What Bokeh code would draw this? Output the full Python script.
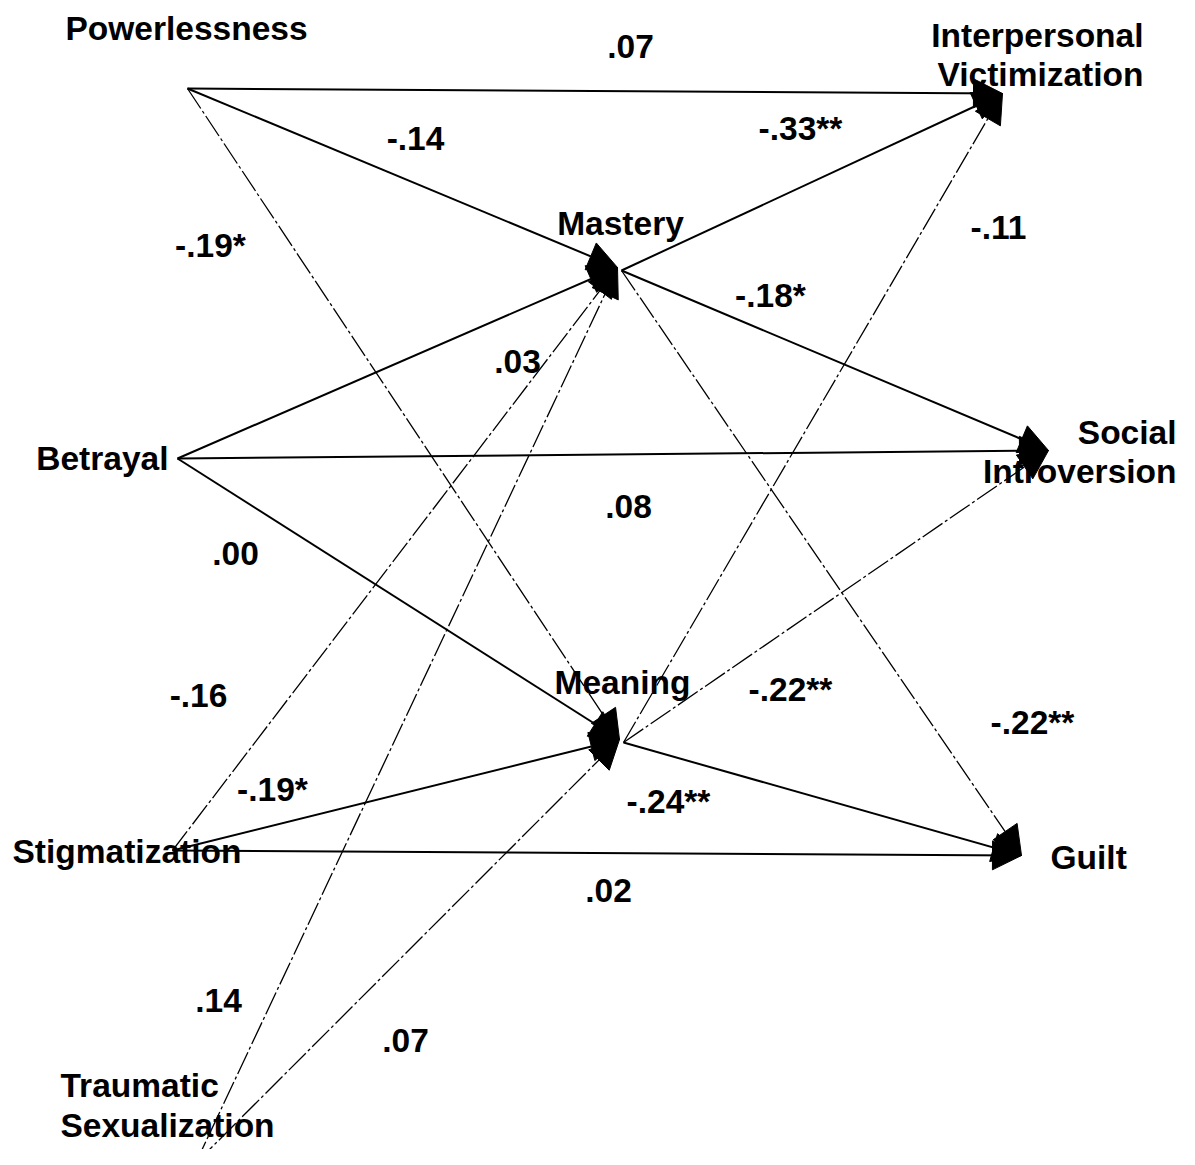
from bokeh.plotting import figure
from bokeh.models import ColumnDataSource, Range1d, Arrow, NormalHead
from bokeh.core.properties import value
from bokeh.embed import file_html
from bokeh.resources import INLINE

# ---------------- data ----------------
edge_from = ["Powerlessness", "Powerlessness", "Powerlessness",
             "Betrayal", "Betrayal", "Betrayal",
             "Stigmatization", "Stigmatization", "Stigmatization",
             "Traumatic Sexualization", "Traumatic Sexualization",
             "Mastery", "Mastery", "Mastery",
             "Meaning", "Meaning", "Meaning"]
edge_to = ["Interpersonal Victimization", "Mastery", "Meaning",
           "Mastery", "Social Introversion", "Meaning",
           "Mastery", "Meaning", "Guilt",
           "Mastery", "Meaning",
           "Interpersonal Victimization", "Social Introversion", "Guilt",
           "Interpersonal Victimization", "Social Introversion", "Guilt"]
coef = [".07", "-.14", "-.19*",
        ".03", ".08", ".00",
        "-.16", "-.19*", ".02",
        ".14", ".07",
        "-.33**", "-.18*", "-.22**",
        "-.11", "-.22**", "-.24**"]
# edges whose printed line is faint / broken in the scan
faint = [False, False, True,
         False, False, False,
         True, False, False,
         True, True,
         False, False, True,
         True, True, False]

# ---------------- layout (pixel coordinates of the page) ----------------
node_out = {
    "Powerlessness": (187, 88),
    "Betrayal": (177, 458),
    "Stigmatization": (172, 850),
    "Traumatic Sexualization": (195, 1163),
    "Mastery": (621, 270),
    "Meaning": (623, 742),
}
node_in = {
    "Mastery": (617, 267),
    "Meaning": (619, 739),
    "Interpersonal Victimization": (1002, 93),
    "Social Introversion": (1048, 450),
    "Guilt": (1021, 855),
}
coef_pos = [(630, 46), (415, 138), (210, 245),
            (517, 361), (628, 506), (235, 553),
            (198, 695), (272, 789), (608, 890),
            (218, 1000), (405, 1040),
            (800, 128), (770, 295), (1032, 722),
            (998, 227), (790, 689), (668, 801)]

node_text = ["Powerlessness", "Interpersonal", "Victimization", "Mastery",
             "Betrayal", "Social", "Introversion", "Meaning",
             "Stigmatization", "Guilt", "Traumatic", "Sexualization"]
node_text_pos = [(65, 28), (1143, 35), (1143, 74), (620, 223),
                 (168, 458), (1176, 432), (1176, 471), (622, 682),
                 (12, 851), (1050, 857), (60, 1085), (60, 1125)]
node_text_align = ["left", "right", "right", "center",
                   "right", "right", "right", "center",
                   "left", "left", "left", "left"]

FONT = "Liberation Sans"
FSIZE = "33.5px"

p = figure(width=1179, height=1149, output_backend="svg", toolbar_location=None,
           x_range=Range1d(0, 1179), y_range=Range1d(1149, 0),
           min_border=0, outline_line_color=None, background_fill_color="white",
           border_fill_color="white")
p.axis.visible = False
p.grid.visible = False

def edge_source(mask):
    d = dict(x0=[], y0=[], x1=[], y1=[])
    for f, t, m in zip(edge_from, edge_to, faint):
        if m != mask:
            continue
        x0, y0 = node_out[f]
        x1, y1 = node_in[t]
        d["x0"].append(x0); d["y0"].append(y0)
        d["x1"].append(x1); d["y1"].append(y1)
    return ColumnDataSource(d)

for mask, lw, dash in [(False, 2.0, "solid"), (True, 1.3, "24 3 3 3")]:
    src = edge_source(mask)
    p.add_layout(Arrow(end=NormalHead(size=29, fill_color="black", line_color="black", line_width=1),
                       x_start="x0", y_start="y0", x_end="x1", y_end="y1",
                       source=src, line_color="black", line_width=lw, line_dash=dash))

csrc = ColumnDataSource(dict(x=[c[0] for c in coef_pos], y=[c[1] for c in coef_pos], t=coef))
p.text(x="x", y="y", text="t", source=csrc, text_align="center", text_baseline="middle",
       text_font=value(FONT), text_font_size=FSIZE, text_font_style="bold", text_color="black")

nsrc = ColumnDataSource(dict(x=[c[0] for c in node_text_pos], y=[c[1] for c in node_text_pos],
                             t=node_text, a=node_text_align))
p.text(x="x", y="y", text="t", source=nsrc, text_align="a", text_baseline="alphabetic",
       text_font=value(FONT), text_font_size=FSIZE, text_font_style="bold", text_color="black")

open("out.html", "w").write(file_html(p, INLINE))
